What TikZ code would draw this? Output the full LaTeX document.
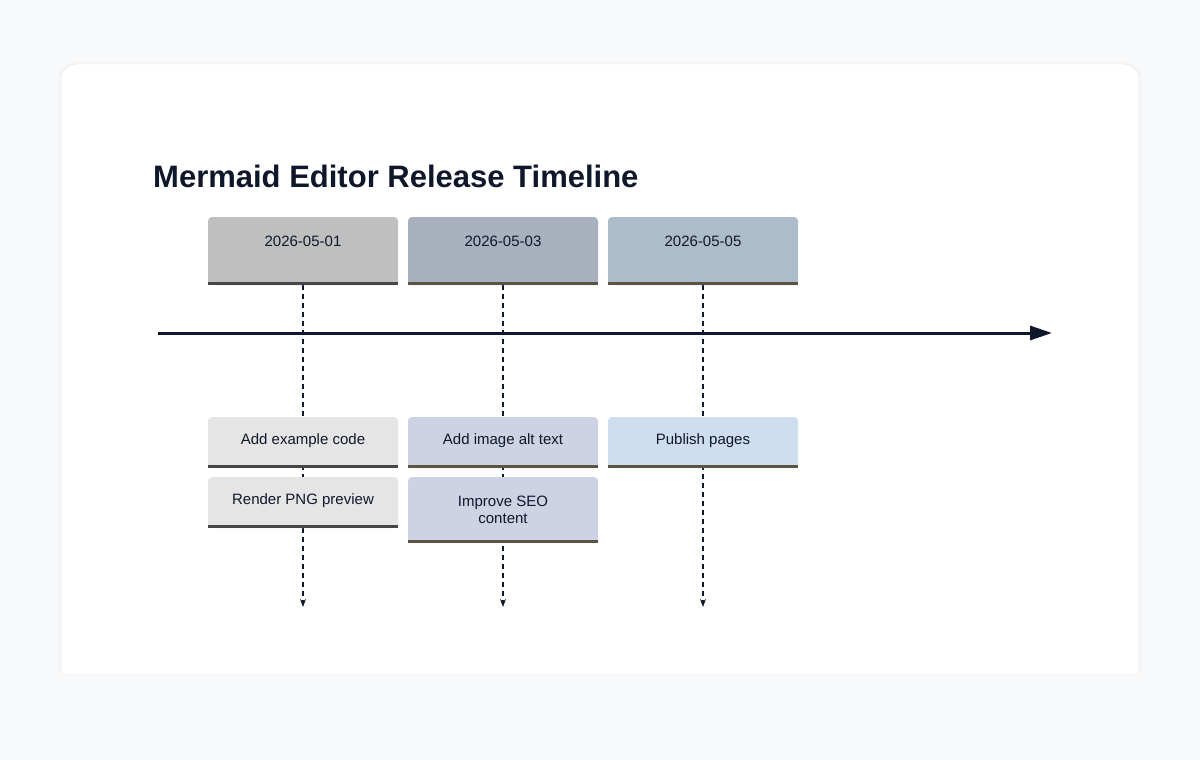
\documentclass[tikz,border=0pt]{standalone}
\usepackage{fontspec}
\setmainfont{Liberation Sans}
\usetikzlibrary{arrows.meta}
\definecolor{pagebg}{HTML}{F8F9FB}
\definecolor{ink}{HTML}{0F172A}
\definecolor{cA}{HTML}{BFBFBF}
\definecolor{cB}{HTML}{A9B1BF}
\definecolor{cC}{HTML}{ADBCCB}
\definecolor{tA}{HTML}{E5E5E5}
\definecolor{tB}{HTML}{CDD3E5}
\definecolor{tC}{HTML}{CFDEEF}
\definecolor{lA}{HTML}{474747}
\definecolor{lB}{HTML}{5C5443}
\tikzset{
  box/.style={minimum width=190pt, inner sep=0pt, align=center, font=\fontsize{15}{17}\selectfont, text=ink, rounded corners=4pt},
}
\newcommand{\mybox}[8]{% name, x1, y1, y2, fill, line, text, textoffset
  \fill[#5, rounded corners=4pt] (#2,#3) rectangle (#2+190,#4);
  \fill[#5] (#2,#3+8) rectangle (#2+190,#4);
  \draw[#6, line width=3pt] (#2,#4-1.5) -- (#2+190,#4-1.5);
  \node[align=center, font=\fontsize{15}{17}\selectfont, text=ink] (#1) at (#2+95,#8) {#7};
}
\begin{document}
\begin{tikzpicture}[x=1pt,y=-1pt]
\fill[pagebg] (0,0) rectangle (1200,760);
\begin{scope}
\clip (0,0) rectangle (1200,672);
\fill[black!4, rounded corners=18pt] (58,62) rectangle (1142,720);
\filldraw[fill=white, draw=black!9, rounded corners=16pt] (61,64) rectangle (1139,720);
\end{scope}
\node[anchor=base west, font=\bfseries\fontsize{31}{36}\selectfont, text=ink, inner sep=0pt] (title) at (153,187) {Mermaid Editor Release Timeline};
% dashed lines first
\coordinate (e1) at (303,607);
\coordinate (e2) at (503,607);
\coordinate (e3) at (703,607);
\coordinate (s1) at (303,285);
\coordinate (s2) at (503,285);
\coordinate (s3) at (703,285);
\foreach \i in {1,2,3}
  \draw[ink, line width=1.4pt, dash pattern=on 5pt off 4pt, -{Stealth[length=8pt,width=6pt]}] (s\i) -- (e\i);
% main axis
\coordinate (a0) at (158,333);
\coordinate (a1) at (1052,333);
\draw[ink, line width=3pt, -{Stealth[length=22pt,width=14pt,inset=0pt]}] (a0) -- (a1);
% period boxes
\mybox{p1}{208}{217}{285}{cA}{lA}{2026-05-01}{241}
\mybox{p2}{408}{217}{285}{cB}{lB}{2026-05-03}{241}
\mybox{p3}{608}{217}{285}{cC}{lB}{2026-05-05}{241}
% tasks
\mybox{t11}{208}{417}{468}{tA}{lA}{Add example code}{441}
\mybox{t12}{208}{477}{528}{tA}{lA}{Render PNG preview}{501}
\mybox{t21}{408}{417}{468}{tB}{lB}{Add image alt text}{441}
\mybox{t22}{408}{477}{543}{tB}{lB}{Improve SEO\\content}{510}
\mybox{t31}{608}{417}{468}{tC}{lB}{Publish pages}{441}
\end{tikzpicture}
\end{document}
